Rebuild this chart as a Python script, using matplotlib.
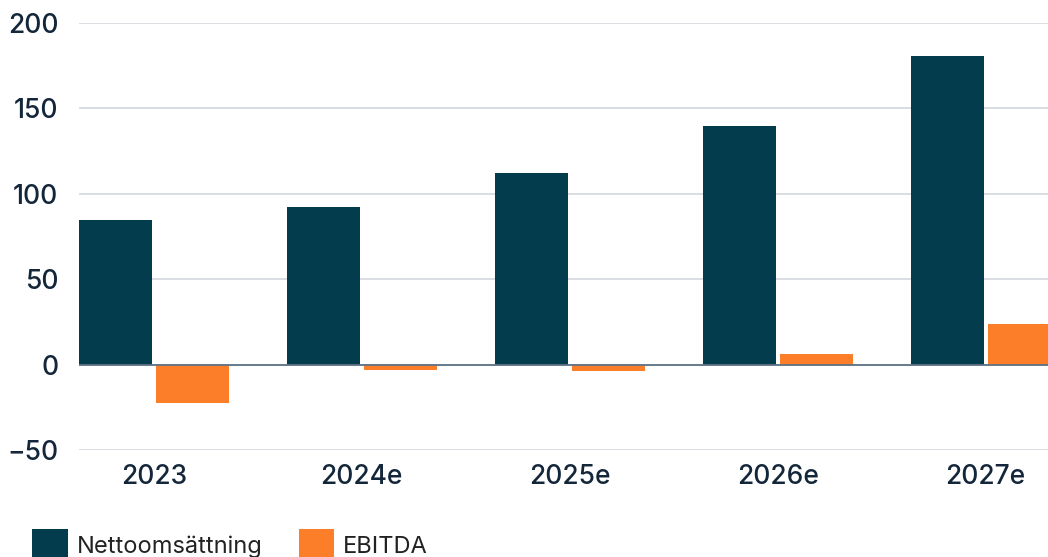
import matplotlib
matplotlib.use("Agg")
import matplotlib.pyplot as plt
import numpy as np

years = ["2023", "2024e", "2025e", "2026e", "2027e"]
nettoomsattning = [84.5, 92.5, 112, 139.5, 180.5]
ebitda = [-22.5, -3, -3.5, 6, 23.5]

DARK = "#023C4D"
ORANGE = "#FC7E28"
TEXT = "#13263A"

plt.rcParams["font.family"] = ["Inter", "DejaVu Sans"]

fig = plt.figure(figsize=(10.48, 5.57), dpi=100)
ax = fig.add_axes([79 / 1048, 107 / 557, 1 - 79 / 1048, 427 / 557])

x = np.arange(len(years))
w = 0.35
b1 = ax.bar(x - w / 2 - 0.01, nettoomsattning, w, color=DARK, label="Nettoomsättning", zorder=3)
b2 = ax.bar(x + w / 2 + 0.01, ebitda, w, color=ORANGE, label="EBITDA", zorder=3)

ax.set_ylim(-50, 200)
ax.set_xlim(-0.36, 4.30)
ax.set_yticks([-50, 0, 50, 100, 150, 200])
ax.set_yticklabels(["\u221250", "0", "50", "100", "150", "200"])
ax.set_xticks(x)
ax.set_xticklabels(years)

ax.yaxis.grid(True, color="#D3D8DD", linewidth=1.2, zorder=0)
ax.axhline(0, color="#5F7387", linewidth=1.3, zorder=4)
for s in ax.spines.values():
    s.set_visible(False)
ax.tick_params(axis="both", length=0, labelsize=19, labelcolor=TEXT)
ax.tick_params(axis="y", pad=15)
ax.tick_params(axis="x", pad=10)
for lbl in ax.get_yticklabels() + ax.get_xticklabels():
    lbl.set_fontweight("medium")

fig.legend(handles=[b1, b2], loc="center left", bbox_to_anchor=(32 / 1048, 1 - 545 / 557),
           ncol=2, frameon=False, fontsize=17, handlelength=1.52, handleheight=1.7,
           handletextpad=0.38, columnspacing=1.52, labelcolor="#222222",
           borderaxespad=0, borderpad=0)

fig.savefig("out.png", dpi=100)
